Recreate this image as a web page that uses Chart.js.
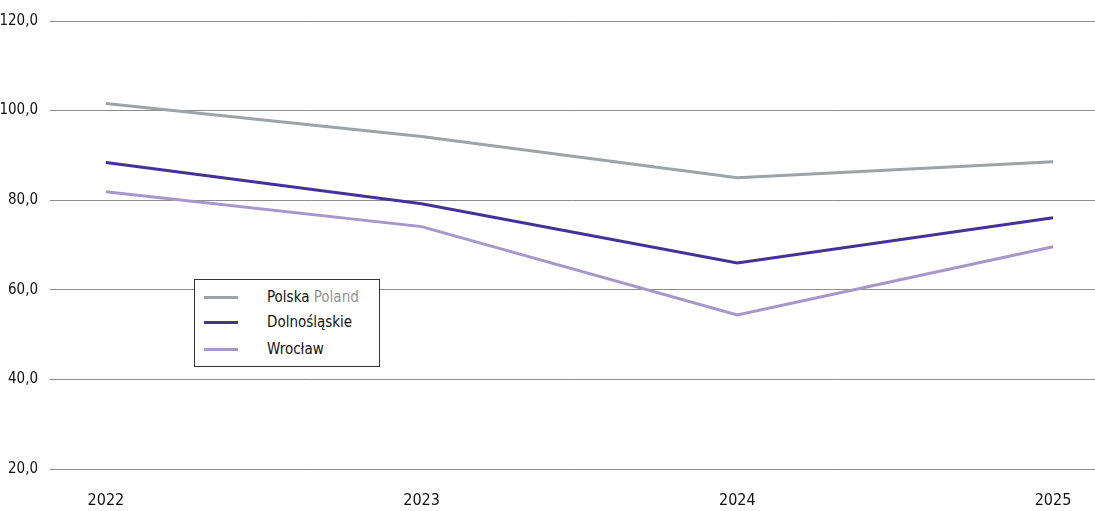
<!DOCTYPE html>
<html>
<head>
<meta charset="utf-8">
<script src="https://cdn.jsdelivr.net/npm/chart.js@4/dist/chart.umd.min.js"></script>
<style>
    html, body { margin: 0; padding: 0; background: #fff; }
    #wrap { position: relative; width: 1095px; height: 511px; }
    #legend {
        position: absolute; left: 194px; top: 279px; width: 186px; height: 88px;
        box-sizing: border-box; border: 1px solid #333; background: #fff;
        font-family: 'Liberation Sans Narrow', 'DejaVu Sans Condensed', sans-serif;
        font-size: 15px; color: #111;
    }
    .item { position: absolute; left: 9px; height: 20px; line-height: 20px; white-space: nowrap; }
    .swatch { display: inline-block; width: 34px; height: 3px; vertical-align: middle; margin-right: 29px; }
    .grey { color: #8e9396; }
</style>
</head>
<body>
<div id="wrap">
    <canvas id="chart" width="1095" height="511"></canvas>
    <div id="legend">
        <div class="item" style="top:7px"><span class="swatch" style="background:#9ea3a6"></span>Polska <span class="grey">Poland</span></div>
        <div class="item" style="top:32px"><span class="swatch" style="background:#45319a"></span>Dolnośląskie</div>
        <div class="item" style="top:59px"><span class="swatch" style="background:#a596cc"></span>Wrocław</div>
    </div>
</div>
<script>
// years on the x axis
const years = ['2022', '2023', '2024', '2025'];

// series values
const polska = [101.6, 94.2, 85.0, 88.6];
const dolnoslaskie = [88.4, 79.2, 66.0, 76.1];
const wroclaw = [81.9, 74.1, 54.4, 69.6];

const yTicks = [20, 40, 60, 80, 100, 120];

const FONT = "'Liberation Sans Narrow', 'DejaVu Sans Condensed', sans-serif";

function toPoints(values) {
    return values.map((v, i) => ({ x: i, y: v }));
}

function makeSet(label, values, color) {
    return {
        label: label,
        data: toPoints(values),
        borderColor: color,
        backgroundColor: color,
        borderWidth: 3,
        pointRadius: 0,
        tension: 0
    };
}

const ctx = document.getElementById('chart').getContext('2d');

new Chart(ctx, {
    type: 'line',
    data: {
        datasets: [
            makeSet('Polska Poland', polska, '#9ea3a6'),
            makeSet('Dolnośląskie', dolnoslaskie, '#45319a'),
            makeSet('Wrocław', wroclaw, '#a596cc')
        ]
    },
    options: {
        responsive: false,
        animation: false,
        layout: {
            padding: { top: 15, right: 0, left: 0, bottom: 0 }
        },
        plugins: {
            legend: { display: false },
            tooltip: { enabled: false }
        },
        scales: {
            x: {
                type: 'linear',
                min: -0.177,
                max: 3.133,
                afterBuildTicks: function(axis) {
                    axis.ticks = years.map((y, i) => ({ value: i }));
                },
                afterFit: function(axis) {
                    axis.height = 42;
                },
                grid: { display: false, drawTicks: false },
                border: { display: false },
                ticks: {
                    padding: 22,
                    color: '#111',
                    font: { family: FONT, size: 16 },
                    callback: function(value) {
                        return years[value];
                    }
                }
            },
            y: {
                min: 20,
                max: 120,
                afterBuildTicks: function(axis) {
                    axis.ticks = yTicks.map(v => ({ value: v }));
                },
                afterFit: function(axis) {
                    axis.width = 50;
                },
                grid: {
                    color: '#8c8c8c',
                    lineWidth: 1,
                    drawTicks: false
                },
                border: { display: false },
                ticks: {
                    padding: 12,
                    color: '#111',
                    font: { family: FONT, size: 15 },
                    callback: function(value) {
                        return value.toFixed(1).replace('.', ',');
                    }
                }
            }
        }
    }
});
</script>
</body>
</html>
